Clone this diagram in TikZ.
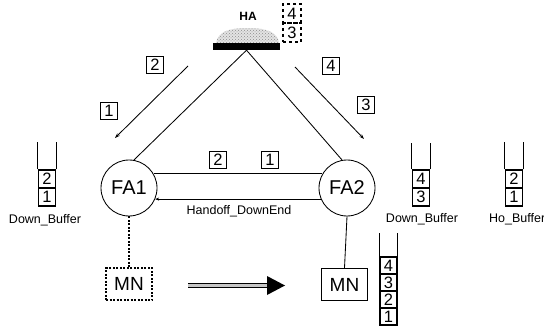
\documentclass[tikz,border=0pt]{standalone}
\usepackage{fontspec}
\setmainfont{Liberation Sans}
\usetikzlibrary{arrows.meta,patterns}
\begin{document}
\begin{tikzpicture}[x=1pt,y=-1pt,
  numbox/.style={draw, line width=1.2pt, minimum width=17pt, minimum height=17pt, inner sep=0pt, font=\fontsize{16.5}{16.5}\selectfont},
  fa/.style={circle, draw, line width=0.85pt, minimum size=56pt, inner sep=0pt, font=\fontsize{20}{20}\selectfont},
  mnbox/.style={draw, line width=1.2pt, minimum width=46pt, minimum height=32pt, inner sep=0pt, font=\fontsize{19}{19}\selectfont},
  lbl/.style={font=\fontsize{12.5}{12.5}\selectfont, inner sep=0pt},
  ln/.style={line width=0.85pt},
  arr/.style={line width=0.85pt, -{Stealth[length=5pt,width=3.5pt]}},
  tube/.style={line width=1pt},
]
\useasboundingbox (0,0) rectangle (544,326);

% HA
\node[font=\bfseries\fontsize{12}{12}\selectfont, inner sep=0pt] (ha) at (248,16) {HA};
\fill[gray!22] (216,43) .. controls (218,31) and (230,28) .. (248,28) .. controls (266,28) and (278,32) .. (279,43) -- cycle;
\fill[pattern=crosshatch dots, pattern color=gray!90] (216,43) .. controls (218,31) and (230,28) .. (248,28) .. controls (266,28) and (278,32) .. (279,43) -- cycle;
\node[fill=black, minimum width=67pt, minimum height=7pt, inner sep=0pt] (bar) at (246.5,46.5) {};
\node[numbox, dashed, minimum width=18pt, minimum height=19pt] (h4) at (292,13.5) {4};
\node[numbox, dashed, minimum width=18pt, minimum height=19pt] (h3) at (292,32.5) {3};

% FAs
\node[fa] (fa1) at (129,188) {FA1};
\node[fa] (fa2) at (347,188) {FA2};
\draw[ln] (bar.south) -- (fa1.80);
\draw[ln] (bar.south) -- (fa2.100);

% arrows from HA
\coordinate (a1s) at (188,66);
\coordinate (a1e) at (115,138);
\coordinate (a2s) at (295,67);
\coordinate (a2e) at (364,139);
\draw[arr] (a1s) -- (a1e);
\draw[arr] (a2s) -- (a2e);
\node[numbox] (l2) at (155,65) {2};
\node[numbox] (l1) at (109,111) {1};
\node[numbox] (r4) at (331,66) {4};
\node[numbox] (r3) at (366,105) {3};

% pipe
\draw[ln] (fa1.30) -- (fa2.150);
\draw[ln, -{Stealth[length=4pt,width=3pt]}] (fa2.-157) -- (fa1.-23);
\node[numbox] (p2) at (218,160) {2};
\node[numbox] (p1) at (270,160) {1};
\node[lbl] (hd) at (239,211) {Handoff\_DownEnd};

% left down buffer
\node[numbox, minimum height=18pt] (lb2) at (47,179) {2};
\node[numbox, minimum height=18pt] (lb1) at (47,197) {1};
\draw[tube] (lb2.north west) -- ++(0,-27);
\draw[tube] (lb2.north east) -- ++(0,-27);
\node[lbl] (ldb) at (45,220) {Down\_Buffer};

% right down buffer
\node[numbox, minimum height=18pt] (rb4) at (421,179) {4};
\node[numbox, minimum height=18pt] (rb3) at (421,197) {3};
\draw[tube] (rb4.north west) -- ++(0,-26);
\draw[tube] (rb4.north east) -- ++(0,-26);
\node[lbl] (rdb) at (422,219) {Down\_Buffer};

% ho buffer
\node[numbox, minimum height=18pt] (hb2) at (514,179) {2};
\node[numbox, minimum height=18pt] (hb1) at (514,197) {1};
\draw[tube] (hb2.north west) -- ++(0,-27);
\draw[tube] (hb2.north east) -- ++(0,-27);
\node[lbl, anchor=west] (hob) at (489,219) {Ho\_Buffer};

% MNs
\node[mnbox, dashed, dash pattern=on 2pt off 1.5pt] (mn1) at (129,284) {MN};
\node[mnbox] (mn2) at (344.5,284.5) {MN};
\draw[line width=1.1pt, dash pattern=on 2pt off 1.5pt] (fa1.south) -- (mn1.north);
\draw[ln] (fa2.south) -- (mn2.north);

% movement arrow
\coordinate (ms) at (188,285.5);
\coordinate (me) at (268,285.5);
\draw[line width=1pt, double=gray!45, double distance=2.8pt] (ms) -- (me);
\fill (267,276) -- (285,285.5) -- (267,295) -- cycle;

% stack buffer
\node[numbox] (s4) at (388.5,265.5) {4};
\node[numbox] (s3) at (388.5,282.5) {3};
\node[numbox] (s2) at (388.5,299.5) {2};
\node[numbox] (s1) at (388.5,316.5) {1};
\draw[tube] (s4.north west) -- ++(0,-23);
\draw[tube] (s4.north east) -- ++(0,-23);
\end{tikzpicture}
\end{document}
